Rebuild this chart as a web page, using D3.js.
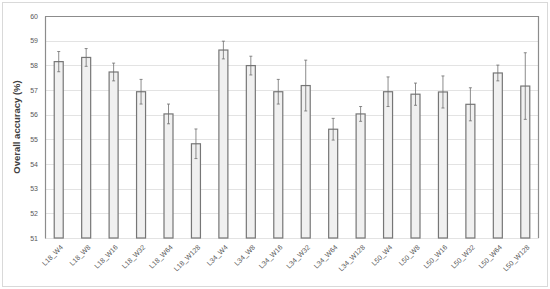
<!DOCTYPE html>
<html>
<head>
<meta charset="utf-8">
<script src="https://cdn.jsdelivr.net/npm/d3@7"></script>
<style>
    body { margin: 0; background: #fff; }
    svg { font-family: "Liberation Sans", "Open Sans", sans-serif; }
</style>
</head>
<body>
<div id="chart"></div>
<script>
// donnees
const categories = ["L18_W4", "L18_W8", "L18_W16", "L18_W32", "L18_W64", "L18_W128",
    "L34_W4", "L34_W8", "L34_W16", "L34_W32", "L34_W64", "L34_W128",
    "L50_W4", "L50_W8", "L50_W16", "L50_W32", "L50_W64", "L50_W128"];
const accuracy = [58.15, 58.32, 57.73, 56.93, 56.03, 54.82,
    58.62, 57.99, 56.93, 57.18, 55.41, 56.03,
    56.93, 56.83, 56.92, 56.42, 57.69, 57.16];
const errors = [0.41, 0.36, 0.36, 0.5, 0.4, 0.6,
    0.36, 0.38, 0.5, 1.03, 0.44, 0.3,
    0.6, 0.45, 0.65, 0.67, 0.32, 1.35];
const yTicks = [51, 52, 53, 54, 55, 56, 57, 58, 59, 60];
const yLabel = "Overall accuracy (%)";

const width = 550;
const height = 289;
const margin = {top: 16, right: 11, bottom: 51, left: 45};

const svg = d3.select("#chart")
    .append("svg")
    .attr("width", width)
    .attr("height", height);

// cadre exterieur
svg.append("rect")
    .attr("x", 2.5).attr("y", 2.5)
    .attr("width", width - 5).attr("height", height - 5)
    .attr("fill", "#fff")
    .attr("stroke", "#d9d9d9");

const x = d3.scaleBand()
    .domain(categories)
    .range([margin.left, width - margin.right]);

const y = d3.scaleLinear()
    .domain([51, 60])
    .range([height - margin.bottom, margin.top]);

// grille
svg.append("g")
    .selectAll("line")
    .data(yTicks)
    .enter()
    .append("line")
    .attr("x1", margin.left)
    .attr("x2", width - margin.right)
    .attr("y1", d => Math.round(y(d)) + 0.5)
    .attr("y2", d => Math.round(y(d)) + 0.5)
    .attr("stroke", "#e3e3e3");

// bordure de la zone de trace
svg.append("path")
    .attr("d", `M${margin.left},${margin.top + 0.5}H${width - margin.right - 0.5}V${height - margin.bottom}`)
    .attr("fill", "none")
    .attr("stroke", "#8c8c8c")
    .attr("stroke-width", 1.2);

// axe Y
const yAxis = svg.append("g")
    .attr("transform", `translate(${margin.left},0)`)
    .call(d3.axisLeft(y).tickValues(yTicks).tickSize(0).tickPadding(7));
yAxis.select(".domain").attr("stroke", "#8c8c8c").attr("stroke-width", 1.2);
yAxis.selectAll("text")
    .attr("font-size", 7)
    .attr("fill", "#595959");

// etiquettes X inclinees a 45 degres
const y0 = height - margin.bottom;
svg.append("g")
    .selectAll("text")
    .data(categories)
    .enter()
    .append("text")
    .attr("transform", d => `translate(${x(d) + x.bandwidth() / 2 + 3},${y0 + 8}) rotate(-45)`)
    .attr("text-anchor", "end")
    .attr("font-size", 7)
    .attr("fill", "#595959")
    .attr("y", 2.5)
    .text(d => d);

// barres
const barW = 9;
svg.selectAll("rect.bar")
    .data(accuracy)
    .enter()
    .append("rect")
    .attr("class", "bar")
    .attr("x", (d, i) => x(categories[i]) + x.bandwidth() / 2 - barW / 2)
    .attr("y", d => y(d))
    .attr("width", barW)
    .attr("height", d => y(51) - y(d))
    .attr("fill", "#f0f0f0")
    .attr("stroke", "#767676")
    .attr("stroke-width", 1.2);

// barres d'erreur
const err = svg.append("g")
    .attr("stroke", "#6e6e6e")
    .attr("stroke-width", 0.8);
accuracy.forEach((d, i) => {
    const cx = x(categories[i]) + x.bandwidth() / 2;
    const top = y(d + errors[i]);
    const bot = y(d - errors[i]);
    err.append("line").attr("x1", cx).attr("x2", cx).attr("y1", top).attr("y2", bot);
    err.append("line").attr("x1", cx - 1.5).attr("x2", cx + 1.5).attr("y1", top).attr("y2", top);
    err.append("line").attr("x1", cx - 1.5).attr("x2", cx + 1.5).attr("y1", bot).attr("y2", bot);
});

// titre de l'axe Y
svg.append("text")
    .attr("transform", `translate(20,${(margin.top + height - margin.bottom) / 2}) rotate(-90)`)
    .attr("text-anchor", "middle")
    .attr("font-size", 9.5)
    .attr("font-weight", "bold")
    .attr("fill", "#404040")
    .text(yLabel);
</script>
</body>
</html>
